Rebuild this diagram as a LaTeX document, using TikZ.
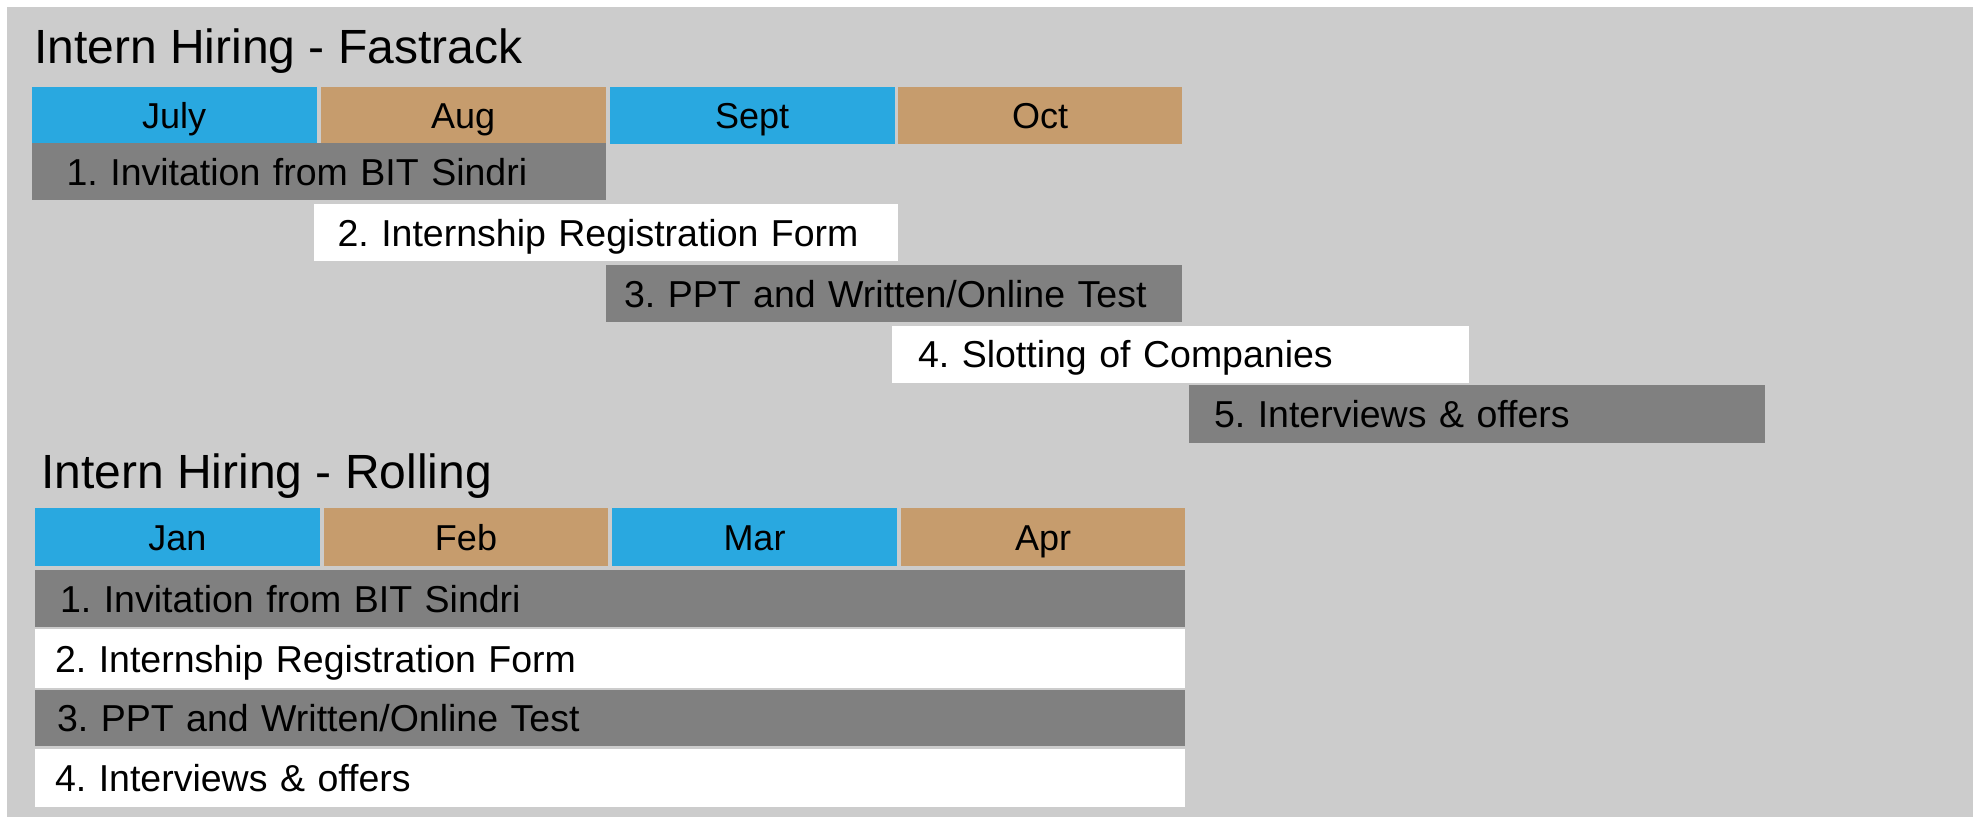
\documentclass[tikz,border=0pt]{standalone}
\usepackage{fontspec}
\setmainfont{Liberation Sans}
\frenchspacing
\definecolor{bgc}{HTML}{CCCCCC}
\definecolor{mblue}{HTML}{29A8E0}
\definecolor{mtan}{HTML}{C69C6D}
\definecolor{dgrey}{HTML}{808080}
\begin{document}
\begin{tikzpicture}[x=1pt,y=-1pt,
  cellbox/.style={rectangle, anchor=north west, inner ysep=0pt, outer sep=0pt,
    text height=27pt, text depth=0pt, font=\fontsize{37.5}{40}\selectfont},
  month/.style={cellbox, minimum width=#1pt, minimum height=57pt, inner xsep=0pt, align=center, font=\fontsize{36}{40}\selectfont},
  taskbar/.style={cellbox, minimum height=57pt, align=left},
  ttl/.style={anchor=base west, inner sep=0pt, font=\fontsize{48}{52}\selectfont}]
\useasboundingbox (0,0) rectangle (1973,817);
\fill[bgc] (7,7) rectangle (1973,817);
% Fastrack
\node[ttl] (t1) at (34,63) {Intern Hiring - Fastrack};
\node[month=285, fill=mblue] (jul) at (31.6,86.7) {July};
\node[month=285, fill=mtan] (aug) at (320.7,86.7) {Aug};
\node[month=285, fill=mblue] (sep) at (609.7,86.7) {Sept};
\node[month=284, fill=mtan] (oct) at (898,86.7) {Oct};
\node[taskbar, fill=dgrey, inner xsep=35pt, text width=504.4pt] (f1) at (31.6,143.3) {1. Invitation from BIT Sindri};
\node[taskbar, fill=white, inner xsep=24pt, text width=536pt] (f2) at (313.5,204) {2. Internship Registration Form};
\node[taskbar, fill=dgrey, inner xsep=18pt, text width=540pt] (f3) at (606,265) {3. PPT and Written/Online Test};
\node[taskbar, fill=white, inner xsep=26pt, text width=525pt] (f4) at (892,325.7) {4. Slotting of Companies};
\node[taskbar, fill=dgrey, inner xsep=25pt, text width=526pt, minimum height=58pt] (f5) at (1189,385) {5. Interviews \& offers};
% Rolling
\node[ttl] (t2) at (41,488) {Intern Hiring - Rolling};
\node[month=285, fill=mblue, minimum height=57.7pt] (jan) at (35,508.3) {Jan};
\node[month=284, fill=mtan, minimum height=57.7pt] (feb) at (324,508.3) {Feb};
\node[month=285, fill=mblue, minimum height=57.7pt] (mar) at (612,508.3) {Mar};
\node[month=284, fill=mtan, minimum height=57.7pt] (apr) at (901,508.3) {Apr};
\node[taskbar, fill=dgrey, inner xsep=25pt, text width=1100pt] (r1) at (35,570) {1. Invitation from BIT Sindri};
\node[taskbar, fill=white, inner xsep=20pt, text width=1110pt, minimum height=59pt] (r2) at (35,629) {2. Internship Registration Form};
\node[taskbar, fill=dgrey, inner xsep=22pt, text width=1106pt, minimum height=56pt] (r3) at (35,690) {3. PPT and Written/Online Test};
\node[taskbar, fill=white, inner xsep=20pt, text width=1110pt, minimum height=58pt] (r4) at (35,749) {4. Interviews \& offers};
\end{tikzpicture}
\end{document}
